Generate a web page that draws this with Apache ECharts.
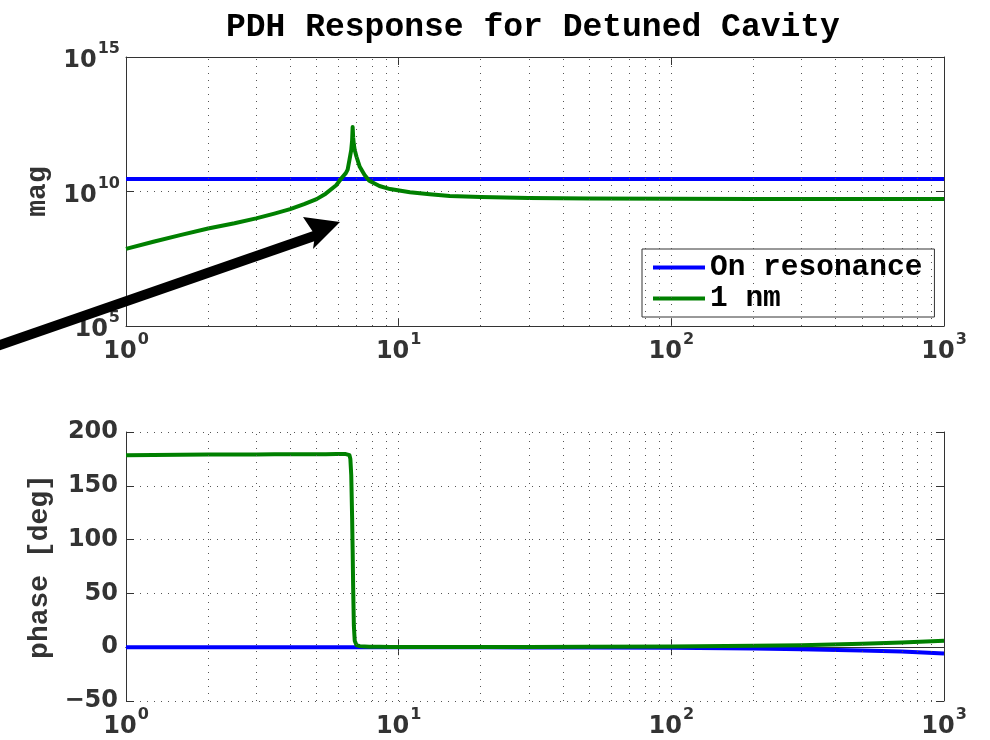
<!DOCTYPE html>
<html>
<head>
<meta charset="utf-8">
<script src="https://cdn.jsdelivr.net/npm/echarts@6/dist/echarts.min.js"></script>
<style>
html,body{margin:0;padding:0;background:#fff;}
#chart{width:990px;height:740px;}
</style>
</head>
<body>
<div id="chart"></div>
<script>
// ---- data ----
var titleText = 'PDH Response for Detuned Cavity';
var seriesNames = ['On resonance', '1 nm'];
var freq = [1, 1.26, 1.58, 2, 2.5, 3, 3.5, 4, 4.5, 5, 5.4, 5.9, 6.2, 6.4, 6.5, 6.6, 6.65, 6.7, 6.75, 6.78, 6.81, 6.85, 6.9, 7.0, 7.2, 7.5, 7.8, 8.5, 9.3, 11, 13, 15.4, 20, 30, 50, 100, 200, 300, 500, 700, 1000];
var magOnRes = [2.9e10, 2.9e10, 2.9e10, 2.9e10, 2.9e10, 2.9e10, 2.9e10, 2.9e10, 2.9e10, 2.9e10,
                2.9e10, 2.9e10, 2.9e10, 2.9e10, 2.9e10, 2.9e10, 2.9e10, 2.9e10, 2.9e10, 2.9e10,
                2.9e10, 2.9e10, 2.9e10, 2.9e10, 2.9e10, 2.9e10, 2.9e10, 2.9e10, 2.9e10, 2.9e10,
                2.9e10, 2.9e10, 2.9e10, 2.9e10, 2.9e10, 2.9e10, 2.9e10, 2.9e10, 2.9e10, 2.9e10, 2.9e10];
var mag1nm = [7.4e7, 1.35e8, 2.4e8, 4.2e8, 6.6e8, 1.0e9, 1.5e9, 2.2e9, 3.4e9, 5.2e9,
              8.3e9, 1.7e10, 3.3e10, 4.8e10, 6.5e10, 1.5e11, 2.3e11, 3.5e11, 8.0e11, 2.5e12,
              1.0e12, 5.5e11, 3.5e11, 2.0e11, 8.3e10, 4.1e10, 2.5e10, 1.6e10, 1.23e10, 9.3e9,
              7.9e9, 6.8e9, 6.2e9, 5.75e9, 5.5e9, 5.4e9, 5.3e9, 5.3e9, 5.25e9, 5.25e9, 5.25e9];
var phaseOnRes = [0, 0, 0, 0, 0, 0, 0, 0, 0, 0,
                  0, 0, 0, 0, 0, 0, 0, 0, 0, 0,
                  0, 0, 0, 0, 0, 0, 0, 0, 0, 0,
                  -0.08, -0.09, -0.12, -0.2, -0.3, -0.6, -1.2, -1.8, -3.0, -4.1, -5.9];
var phase1nm = [178.5, 178.7, 178.9, 179, 179.1, 179.2, 179.3, 179.3, 179.4, 179.4,
                179.4, 179.5, 179.5, 179.5, 179.4, 178.5, 175, 160, 120, 90,
                55, 20, 6, 2, 1, 0.7, 0.5, 0.4, 0.3, 0.3,
                0.2, 0.2, 0.2, 0.3, 0.4, 0.7, 1.3, 1.9, 3.1, 4.3, 5.9];
var phaseTicks = [-50, 0, 50, 100, 150, 200];

// ---- styling ----
var BLUE = '#0000ff', GREEN = '#008000', AX = '#333', GRID = '#555';
var MONO = "'Courier New', 'Liberation Mono', monospace";
var SANS = "'DejaVu Sans', sans-serif";

function pairs(xs, ys) { return xs.map(function (x, i) { return [x, ys[i]]; }); }

var gridX = [];
[1, 10, 100].forEach(function (d) { for (var k = 2; k <= 10; k++) { if (d * k < 1000) gridX.push(d * k); } });
var gridLines = {
  silent: true, symbol: 'none', animation: false,
  label: { show: false },
  lineStyle: { color: GRID, type: [1, 6], width: 1 },
  emphasis: { disabled: true },
  data: gridX.map(function (v) { return { xAxis: v }; })
};

function expLabel(v) {
  var e = Math.round(Math.log10(v));
  return '{b|10}{s|' + e + '}';
}
var richX = {
  b: { fontSize: 24, fontWeight: 'bold', fontFamily: SANS, color: AX, verticalAlign: 'bottom', lineHeight: 32 },
  s: { fontSize: 16, fontWeight: 'bold', fontFamily: SANS, color: AX, verticalAlign: 'top', lineHeight: 32, padding: [0, 0, 0, 1] }
};

function xAxisPair(gridIndex) {
  return [{
    type: 'log', logBase: 10, gridIndex: gridIndex, min: 1, max: 1000, interval: 1, position: 'bottom',
    axisLine: { show: true, lineStyle: { color: AX, width: 1 } },
    axisTick: { show: true, inside: true, length: 8, lineStyle: { color: AX } },
    minorTick: { show: false },
    splitLine: { show: false },
    axisLabel: { show: true, margin: 6, formatter: expLabel, rich: richX }
  }, {
    type: 'log', logBase: 10, gridIndex: gridIndex, min: 1, max: 1000, interval: 1, position: 'top',
    axisLine: { show: true, lineStyle: { color: AX, width: 1 } },
    axisTick: { show: true, inside: true, length: 8, lineStyle: { color: AX } },
    splitLine: { show: false },
    axisLabel: { show: false }
  }];
}

var option = {
  backgroundColor: '#fff',
  animation: false,
  title: {
    text: titleText, left: 221, top: 6,
    textStyle: { fontFamily: MONO, fontWeight: 'bold', fontSize: 33, color: '#000' }
  },
  legend: {
    data: seriesNames, orient: 'vertical', left: 642, top: 249,
    icon: 'rect', itemWidth: 52, itemHeight: 4, itemGap: 0,
    padding: [3, 12, 3, 11],
    backgroundColor: '#fff', borderColor: AX, borderWidth: 1,
    textStyle: { fontFamily: MONO, fontWeight: 'bold', fontSize: 29.5, color: '#000', lineHeight: 31 },
    selectedMode: false
  },
  grid: [
    { left: 126, top: 57, width: 818, height: 269, show: false },
    { left: 126, top: 432, width: 818, height: 269, show: false }
  ],
  xAxis: xAxisPair(0).concat(xAxisPair(1)),
  yAxis: [{
    type: 'log', logBase: 10, gridIndex: 0, min: 1e5, max: 1e15, interval: 5,
    name: 'mag', nameLocation: 'middle', nameGap: 64, nameRotate: 90,
    nameTextStyle: { fontFamily: MONO, fontWeight: 'bold', fontSize: 28, color: AX },
    axisLine: { show: true, lineStyle: { color: AX } },
    axisTick: { show: true, inside: true, length: 8, lineStyle: { color: AX } },
    splitLine: { show: true, lineStyle: { color: GRID, type: [1, 6] } },
    axisLabel: { margin: 6, formatter: expLabel, rich: richX }
  }, {
    type: 'log', logBase: 10, gridIndex: 0, min: 1e5, max: 1e15, interval: 5, position: 'right',
    axisLine: { show: true, lineStyle: { color: AX } },
    axisTick: { show: true, inside: true, length: 8, lineStyle: { color: AX } },
    splitLine: { show: false }, axisLabel: { show: false }
  }, {
    type: 'value', gridIndex: 1, min: phaseTicks[0], max: phaseTicks[phaseTicks.length - 1], interval: 50,
    name: 'phase [deg]', nameLocation: 'middle', nameGap: 55, nameRotate: 90,
    nameTextStyle: { fontFamily: MONO, fontWeight: 'bold', fontSize: 28, color: AX },
    axisLine: { show: true, lineStyle: { color: AX } },
    axisTick: { show: true, inside: true, length: 8, lineStyle: { color: AX } },
    splitLine: { show: true, lineStyle: { color: GRID, type: [1, 6] } },
    axisLabel: {
      margin: 8, fontFamily: SANS, fontWeight: 'bold', fontSize: 24, color: AX,
      formatter: function (v) { return String(v).replace('-', '\u2212'); }
    }
  }, {
    type: 'value', gridIndex: 1, min: phaseTicks[0], max: phaseTicks[phaseTicks.length - 1], interval: 50, position: 'right',
    axisLine: { show: true, lineStyle: { color: AX } },
    axisTick: { show: true, inside: true, length: 8, lineStyle: { color: AX } },
    splitLine: { show: false }, axisLabel: { show: false }
  }],
  series: [{
    name: seriesNames[0], type: 'line', xAxisIndex: 0, yAxisIndex: 0, showSymbol: false, symbol: 'none',
    data: pairs(freq, magOnRes), lineStyle: { color: BLUE, width: 4 }, itemStyle: { color: BLUE },
    markLine: gridLines, z: 2
  }, {
    name: seriesNames[1], type: 'line', xAxisIndex: 0, yAxisIndex: 0, showSymbol: false, symbol: 'none',
    data: pairs(freq, mag1nm), lineStyle: { color: GREEN, width: 4, join: 'round' }, itemStyle: { color: GREEN }, z: 3
  }, {
    name: seriesNames[0], type: 'line', xAxisIndex: 2, yAxisIndex: 2, showSymbol: false, symbol: 'none',
    data: pairs(freq, phaseOnRes), lineStyle: { color: BLUE, width: 4 }, itemStyle: { color: BLUE },
    markLine: gridLines, z: 2
  }, {
    name: seriesNames[1], type: 'line', xAxisIndex: 2, yAxisIndex: 2, showSymbol: false, symbol: 'none',
    data: pairs(freq, phase1nm), lineStyle: { color: GREEN, width: 4, join: 'round' }, itemStyle: { color: GREEN }, z: 3
  }],
  graphic: [
    { type: 'line', z: 100, shape: { x1: -20, y1: 352, x2: 317, y2: 235 }, style: { stroke: '#000', lineWidth: 10 } },
    { type: 'polygon', z: 100, shape: { points: [[340, 222], [303, 217], [315, 235], [313, 249]] }, style: { fill: '#000' } }
  ]
};

var chart = echarts.init(document.getElementById('chart'), null, { renderer: 'canvas' });
chart.setOption(option);
</script>
</body>
</html>
